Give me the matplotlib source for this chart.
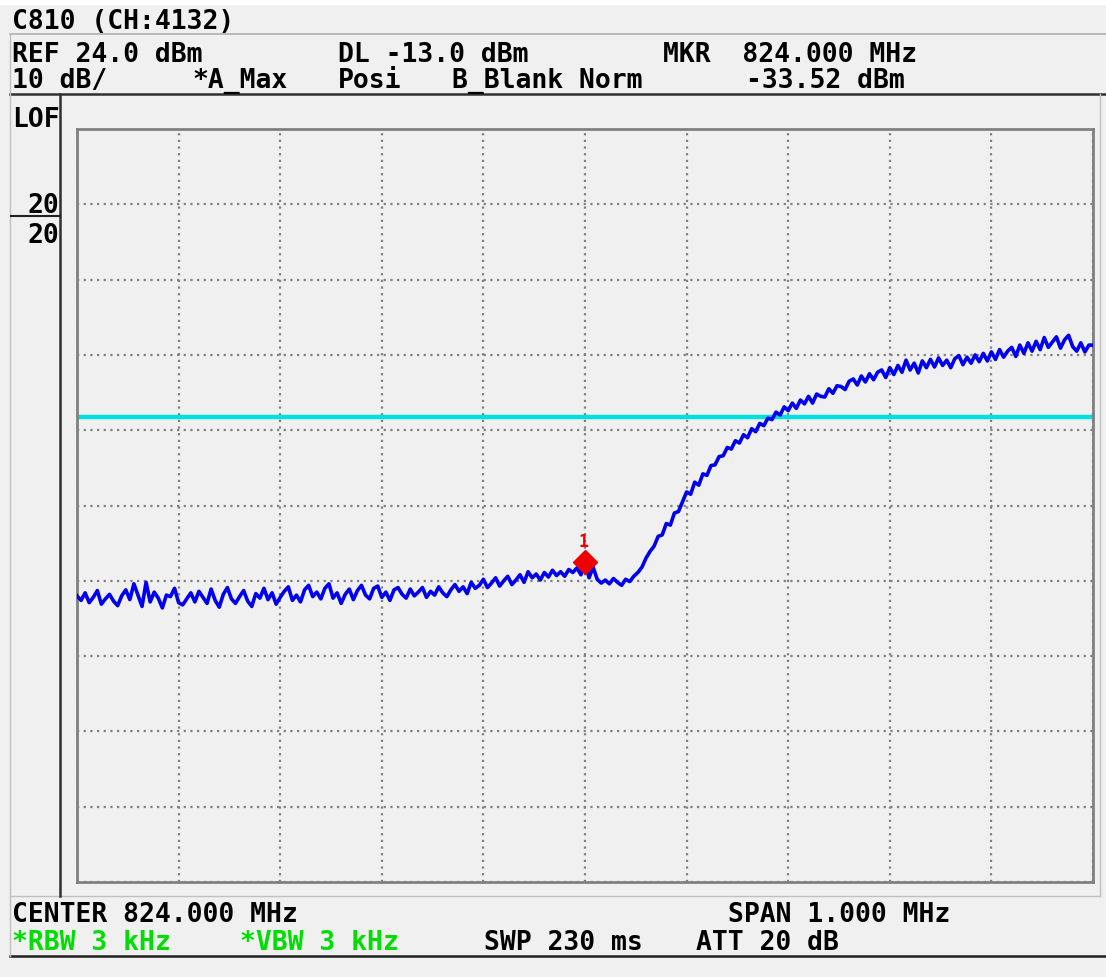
import numpy as np
import matplotlib.pyplot as plt
from matplotlib.lines import Line2D

# analyzer settings
ref_level = 24.0
db_per_div = 10
center_mhz = 824.0
span_mhz = 1.0
dl_level = -14.2          # where the display line sits on screen
marker_freq = 824.0
marker_level = -33.52

# trace, 251 points across the span (dBm)
trace = [
    -38.0, -38.6, -37.6, -38.9, -38.2, -37.3, -39.1, -38.4, -37.8, -38.7,
    -39.3, -38.0, -37.2, -38.5, -36.4, -37.9, -39.4, -36.2, -38.8, -37.5,
    -38.3, -39.6, -37.9, -38.1, -37.0, -38.9, -39.2, -38.4, -37.6, -38.8,
    -37.4, -38.2, -39.0, -37.1, -38.6, -39.5, -37.8, -36.9, -38.4, -39.0,
    -38.1, -37.3, -38.7, -39.4, -37.7, -38.3, -37.0, -38.5, -37.6, -39.1,
    -38.2, -37.4, -36.8, -38.6, -37.9, -38.8, -37.2, -36.6, -38.1, -37.5,
    -38.4, -37.0, -36.4, -38.3, -37.6, -39.0, -37.8, -37.1, -38.5, -37.3,
    -36.6, -37.9, -38.4, -37.0, -36.7, -38.2, -37.5, -38.6, -37.2, -36.9,
    -37.8, -38.3, -37.1, -38.0, -37.5, -36.9, -38.2, -37.4, -37.9, -36.8,
    -37.6, -38.1, -37.2, -36.5, -37.4, -36.8, -37.7, -36.2, -37.0, -36.6,
    -35.8, -36.9, -36.3, -35.6, -36.7, -36.0, -35.4, -36.5, -35.9, -35.2,
    -36.2, -34.8, -35.6, -35.1, -35.9, -34.9, -35.5, -34.6, -35.3, -34.8,
    -35.4, -34.5, -34.9, -34.3, -35.2, -33.5, -35.6, -34.2, -35.8, -36.3,
    -35.9, -36.4, -35.7, -36.2, -36.6, -35.8, -36.1, -35.4, -34.9, -34.2,
    -33.0, -32.1, -31.4, -30.1, -29.9, -28.4, -28.6, -27.0, -26.8, -25.5,
    -24.2, -24.5, -22.9, -23.3, -21.8, -22.0, -20.7, -20.6, -19.5, -19.4,
    -18.3, -18.5, -17.4, -17.7, -16.6, -17.0, -15.8, -16.2, -15.1, -15.4,
    -14.4, -14.6, -13.6, -14.0, -12.9, -13.4, -12.4, -13.1, -12.0, -12.5,
    -11.5, -12.4, -11.2, -11.5, -11.6, -10.5, -11.1, -10.1, -10.2, -10.6,
    -9.5, -9.2, -10.0, -8.8, -9.6, -8.5, -9.3, -8.3, -8.0, -9.0,
    -7.7, -8.6, -7.4, -8.3, -6.7, -8.0, -7.1, -8.4, -6.8, -7.7,
    -6.6, -7.6, -6.4, -7.4, -6.7, -7.7, -6.5, -6.1, -7.3, -6.3,
    -7.1, -6.0, -6.9, -5.8, -6.8, -5.6, -6.6, -5.3, -6.3, -5.5,
    -5.0, -6.2, -4.7, -5.8, -4.4, -5.5, -4.2, -5.3, -3.7, -5.0,
    -4.3, -3.6, -5.1, -4.0, -3.4, -4.9, -5.5, -4.4, -5.6, -4.7,
    -4.7,
]

W, H = 1106, 978
BG = '#f0f0f0'
MONO = 'DejaVu Sans Mono'
GREEN = '#00dd00'

def fx(x):
    return x / W

def fy(y):
    return 1 - y / H

fig = plt.figure(figsize=(W / 100, H / 100), dpi=100, facecolor=BG)
fig.add_artist(plt.Rectangle((0, fy(6)), 1, 6 / H, transform=fig.transFigure,
                             color='white', lw=0))

# screen frame lines
def hline(y, x0, x1, c, lw):
    fig.add_artist(Line2D([fx(x0), fx(x1)], [fy(y), fy(y)], color=c, lw=lw))

def vline(x, y0, y1, c, lw):
    fig.add_artist(Line2D([fx(x), fx(x)], [fy(y0), fy(y1)], color=c, lw=lw))

hline(35, 10, W, '#b0b0b0', 1.2)
hline(95, 10, W, '#303030', 1.8)
hline(897, 10, 1100, '#c0c0c0', 1.0)
hline(957, 10, W, '#202020', 1.8)
vline(10, 35, 957, '#c0c0c0', 1.0)
vline(60, 95, 897, '#303030', 1.8)
vline(1100, 95, 897, '#c0c0c0', 1.0)
hline(217, 11, 60, '#202020', 1.5)

# plot area
ax = fig.add_axes([fx(77), fy(883), 1016 / W, 753 / H])
ax.set_facecolor(BG)
f0 = center_mhz - span_mhz / 2
f1 = center_mhz + span_mhz / 2
bottom = ref_level - 10 * db_per_div
ax.set_xlim(f0, f1)
ax.set_ylim(bottom, ref_level)
ax.set_xticks(np.linspace(f0, f1, 11))
ax.set_yticks(np.linspace(bottom, ref_level, 11))
ax.tick_params(length=0, labelbottom=False, labelleft=False)
ax.grid(True, color='#808080', lw=1.6, ls=(0, (1, 2)))
for s in ax.spines.values():
    s.set_color('#808080')
    s.set_linewidth(2)

freqs = np.linspace(f0, f1, len(trace))
ax.plot(freqs, trace, color='#0000ee', lw=2.6, zorder=3)
ax.axhline(dl_level, color='#00e0e0', lw=3.2, zorder=2)
ax.plot([marker_freq], [marker_level], marker='D', ms=12, color='#ee0000',
        zorder=4, clip_on=False)
ax.annotate('1', (marker_freq, marker_level), xytext=(-1, 9), textcoords='offset points',
            ha='center', va='bottom', color='#ee0000', fontsize=12, fontweight='bold',
            family=MONO, zorder=5)

# on-screen annotations
def t(x, y, s, c='black'):
    fig.text(fx(x), fy(y), s, color=c, family=MONO, fontsize=19, fontweight='bold',
             va='baseline', ha='left')

t(12, 29, 'C810 (CH:4132)')
t(12, 62, 'REF 24.0 dBm')
t(338, 62, 'DL -13.0 dBm')
t(663, 62, 'MKR  824.000 MHz')
t(12, 88, '10 dB/')
t(192, 88, '*A_Max')
t(338, 88, 'Posi')
t(452, 88, 'B_Blank Norm')
t(746, 88, '-33.52 dBm')
t(12, 127, 'LOF')
fig.text(fx(59), fy(213), '20', family=MONO, fontsize=19, fontweight='bold',
         va='baseline', ha='right')
fig.text(fx(59), fy(243), '20', family=MONO, fontsize=19, fontweight='bold',
         va='baseline', ha='right')
t(12, 922, 'CENTER 824.000 MHz')
t(728, 922, 'SPAN 1.000 MHz')
t(12, 950, '*RBW 3 kHz', GREEN)
t(240, 950, '*VBW 3 kHz', GREEN)
t(484, 950, 'SWP 230 ms')
t(696, 950, 'ATT 20 dB')

fig.savefig('out.png', dpi=100, facecolor=BG)
